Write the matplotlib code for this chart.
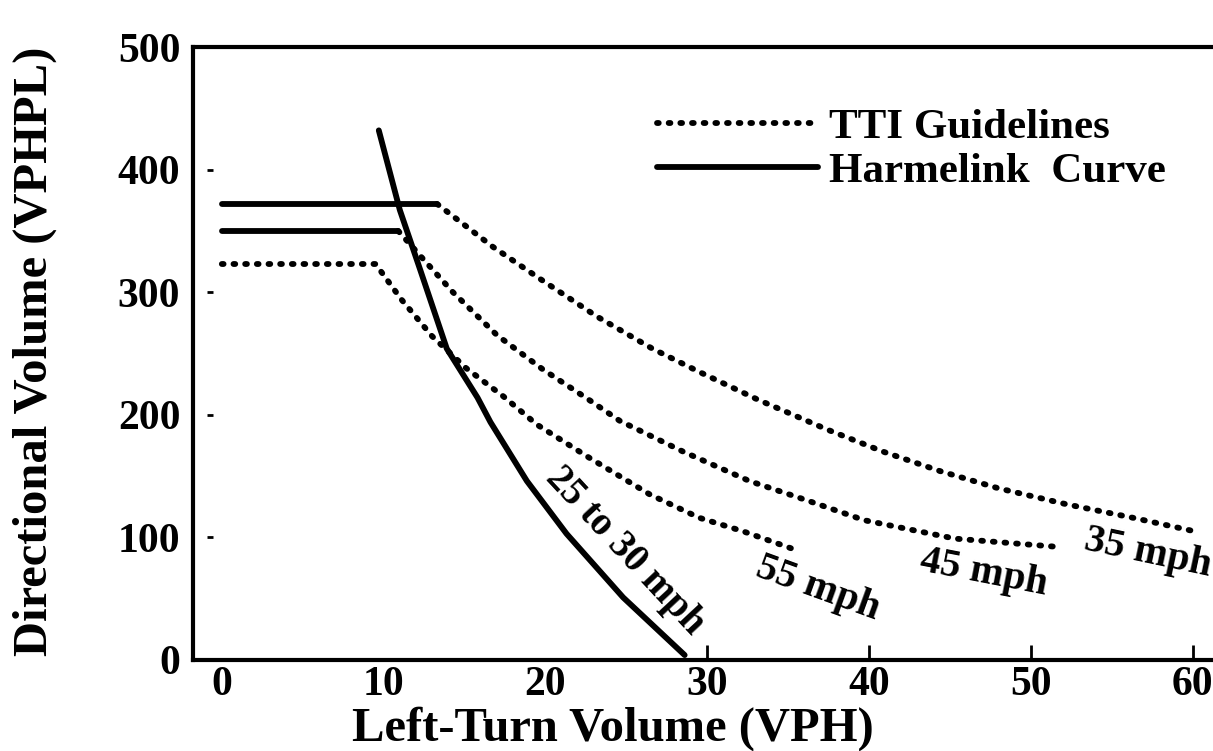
import matplotlib
matplotlib.use("Agg")
from matplotlib import pyplot as plt

# Datos
# ========================================
# Curvas TTI (35, 45 y 55 mph): meseta horizontal y después caída
x_35 = [0, 13.3, 16.75, 19.65, 23.2, 26.6, 29.5, 33.1, 37.4, 40.85, 44.4, 48.0, 52.2, 56.3, 60.1]
y_35 = [372, 372, 337, 311, 280, 254, 235, 212.5, 188, 170, 154, 140, 127, 116, 105]

x_45 = [0, 10.9, 12.24, 14.28, 17.0, 19.84, 22.6, 24.6, 28.5, 32.6, 36.2, 39.7, 45.3, 51.9]
y_45 = [350, 350, 330, 300, 265, 237, 213, 195, 170, 146, 130, 114, 99, 92]

x_55 = [0, 9.5, 11.1, 13.0, 15.1, 17.4, 19.47, 22.7, 26.45, 29.5, 32.2, 35.2]
y_55 = [323, 323, 294, 264, 238, 215, 192, 165, 135, 116, 105, 91]

# Curva de Harmelink (25 a 30 mph)
x_harm = [9.7, 11.0, 12.24, 13.9, 15.8, 16.6, 18.85, 21.3, 24.8, 28.6]
y_harm = [432, 367, 319, 254, 214, 194, 146, 103, 51, 4]

x_ticks = [0, 10, 20, 30, 40, 50, 60]
y_ticks = [0, 100, 200, 300, 400, 500]

plt.rcParams["font.family"] = ["Liberation Serif", "DejaVu Serif"]
plt.rcParams["font.weight"] = "bold"
plt.rcParams["axes.labelweight"] = "bold"

fig = plt.figure(figsize=(12.13, 7.51), dpi=100)
ax = fig.add_axes([0.159, 0.1212, 0.841, 0.8162])

lw = 4.2
dot = (0, (0.3, 1.7))

# TTI
ax.plot(x_35[:2], y_35[:2], c="k", lw=lw, solid_capstyle="round")
tti, = ax.plot(x_35[1:], y_35[1:], c="k", lw=lw, ls=dot, dash_capstyle="round", label="TTI Guidelines")
ax.plot(x_45[:2], y_45[:2], c="k", lw=lw, solid_capstyle="round")
ax.plot(x_45[1:], y_45[1:], c="k", lw=lw, ls=dot, dash_capstyle="round")
ax.plot(x_55, y_55, c="k", lw=lw, ls=dot, dash_capstyle="round")
# Harmelink
harm, = ax.plot(x_harm, y_harm, c="k", lw=lw, solid_capstyle="round", label="Harmelink  Curve")

# Etiquetas de velocidad
ax.text(57.2, 86.8, "35 mph", fontsize=29, rotation=-12, ha="center", va="center")
ax.text(47.1, 70.6, "45 mph", fontsize=29, rotation=-11, ha="center", va="center")
ax.text(36.8, 58.4, "55 mph", fontsize=29, rotation=-20, ha="center", va="center")
ax.text(24.9, 89, "25 to 30 mph", fontsize=28, rotation=-47, ha="center", va="center")

ax.set_xlim(-1.79, 61.25)
ax.set_ylim(0, 497)

ax.set_xticks(x_ticks)
ax.set_yticks(y_ticks)
ax.tick_params(axis="x", direction="in", length=11, width=2, labelsize=30, pad=4)
ax.tick_params(axis="y", length=0, labelsize=30, pad=9)
for t in ax.xaxis.get_major_ticks()[:3]:
    t.tick1line.set_visible(False)
# marcas del eje y separadas del eje, como en el original
ax.hlines(y_ticks[1:5], -0.93, -0.56, colors="k", lw=2)
ax.hlines(y_ticks[-1], -0.93, 18.0, colors="0.2", lw=1.5, clip_on=False)

for s in ["left", "top", "bottom"]:
    ax.spines[s].set_linewidth(3)
ax.spines["right"].set_visible(False)

ax.set_xlabel("Left-Turn Volume (VPH)", fontsize=35)
ax.xaxis.set_label_coords(0.412, -0.076)
ax.set_ylabel("Directional Volume (VPHPL)", fontsize=35)
ax.yaxis.set_label_coords(-0.133, 0.504)

ax.legend(handles=[tti, harm], loc="upper left", bbox_to_anchor=(0.455, 0.9),
          frameon=False, fontsize=31, handlelength=3.75, handletextpad=0.24,
          labelspacing=0.1, borderpad=0, borderaxespad=0)

fig.savefig("out.png")
